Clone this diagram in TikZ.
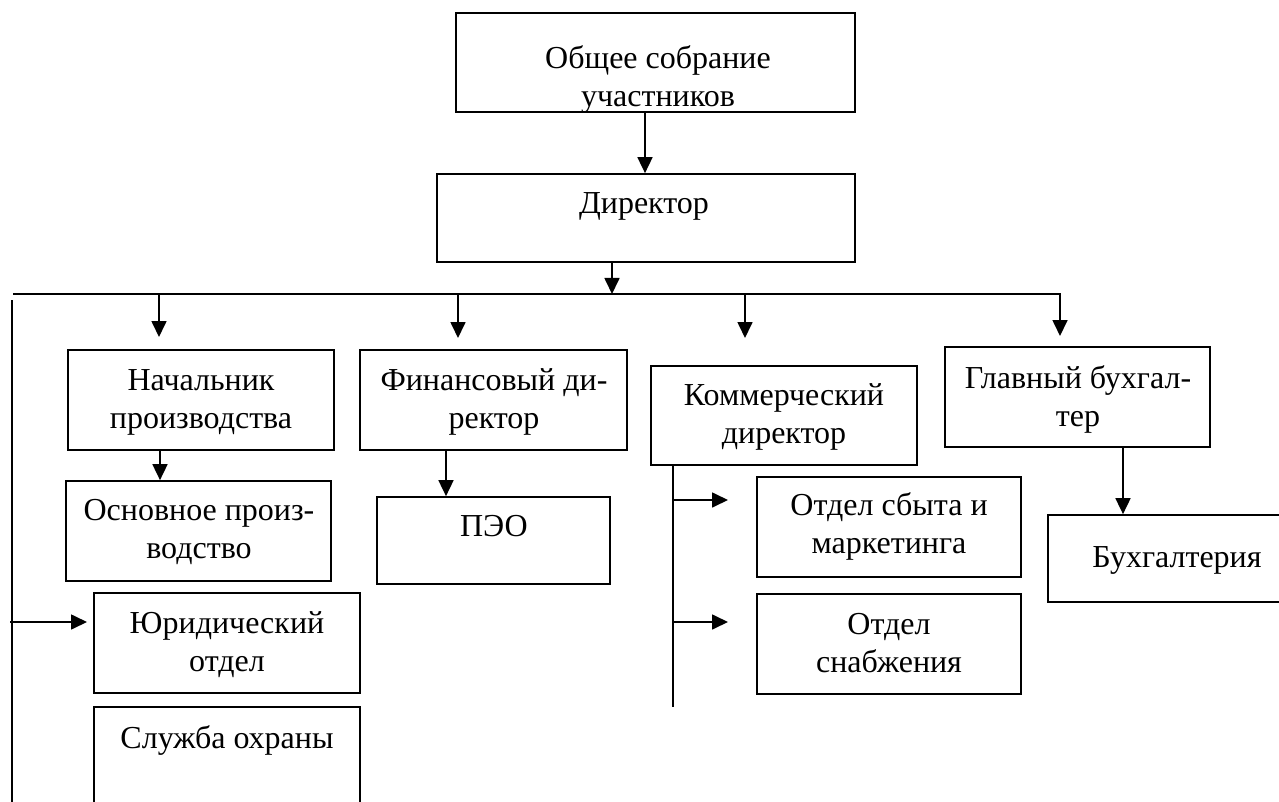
\documentclass[tikz,border=0pt]{standalone}
\usepackage{fontspec}
\setmainfont{Liberation Serif}
\usetikzlibrary{arrows.meta,fit}
\newcommand\mlines[1]{\begin{tabular}[t]{@{}c@{}}#1\end{tabular}}
\begin{document}
\begin{tikzpicture}[x=0.5pt,y=-0.5pt,
  bx/.style={draw, line width=0.85pt, inner sep=0pt},
  txt/.style={inner sep=0pt, anchor=base, font=\fontsize{16pt}{19pt}\selectfont},
  arr/.style={line width=0.85pt, -{Triangle[length=8pt,width=7.5pt]}},
  ln/.style={line width=0.85pt}]
\useasboundingbox (0,0) rectangle (1279,802);

% boxes
\node[bx, fit={(456,13) (855,112)}] (obs) {};
\node[bx, fit={(437,174) (855,262)}] (dir) {};
\node[bx, fit={(68,350) (334,450)}] (nach) {};
\node[bx, fit={(360,350) (627,450)}] (fin) {};
\node[bx, fit={(651,366) (917,465)}] (kom) {};
\node[bx, fit={(945,347) (1210,447)}] (glav) {};
\node[bx, fit={(66,481) (331,581)}] (osn) {};
\node[bx, fit={(377,497) (610,584)}] (peo) {};
\node[bx, fit={(757,477) (1021,577)}] (sbyt) {};
\node[bx, fit={(757,594) (1021,694)}] (snab) {};
\node[bx, fit={(1048,515) (1306,602)}] (buh) {};
\node[bx, fit={(94,593) (360,693)}] (yur) {};
\node[bx, fit={(94,707) (360,840)}] (sluzh) {};

% texts
\node[txt] (tobs) at (658,69) {\mlines{Общее собрание\\участников}};
\node[txt] (tdir) at (644,214) {Директор};
\node[txt] (tnach) at (201,390) {\mlines{Начальник\\производства}};
\node[txt] (tfin) at (494,390) {\mlines{Финансовый ди-\\ректор}};
\node[txt] (tkom) at (784,405) {\mlines{Коммерческий\\директор}};
\node[txt] (tglav) at (1078,388) {\mlines{Главный бухгал-\\тер}};
\node[txt] (tosn) at (199,520) {\mlines{Основное произ-\\водство}};
\node[txt] (tpeo) at (494,536) {ПЭО};
\node[txt] (tsbyt) at (889,515) {\mlines{Отдел сбыта и\\маркетинга}};
\node[txt] (tsnab) at (889,634) {\mlines{Отдел\\снабжения}};
\node[txt] (tbuh) at (1177,567) {Бухгалтерия};
\node[txt] (tyur) at (227,633) {\mlines{Юридический\\отдел}};
\node[txt] (tsluzh) at (227,748) {Служба охраны};

% coordinates
\coordinate (c1) at (645,0);
\coordinate (c2) at (612,294);
\coordinate (busL) at (13,294);
\coordinate (busR) at (1060,294);
\coordinate (b1) at (159,294);
\coordinate (b2) at (458,294);
\coordinate (b3) at (745,294);
\coordinate (e1) at (159,337);
\coordinate (e2) at (458,338);
\coordinate (e3) at (745,338);
\coordinate (e4) at (1060,336);
\coordinate (c3) at (160,0);
\coordinate (c4) at (446,0);
\coordinate (c5) at (1123,0);
\coordinate (lvT) at (12,300);
\coordinate (lvB) at (12,820);
\coordinate (yS) at (10,622);
\coordinate (yE) at (87,622);
\coordinate (kx) at (673,0);
\coordinate (kB) at (673,707);
\coordinate (k1) at (673,500);
\coordinate (k1e) at (728,500);
\coordinate (k2) at (673,622);
\coordinate (k2e) at (728,622);

% connectors
\draw[arr] (obs.south -| c1) -- (dir.north -| c1);
\draw[arr] (dir.south -| c2) -- (c2);
\draw[arr] (busL) -- (busR) -- (e4);
\draw[arr] (b1) -- (e1);
\draw[arr] (b2) -- (e2);
\draw[arr] (b3) -- (e3);
\draw[arr] (nach.south -| c3) -- (osn.north -| c3);
\draw[arr] (fin.south -| c4) -- (peo.north -| c4);
\draw[arr] (glav.south -| c5) -- (buh.north -| c5);
\draw[ln] (lvT) -- (lvB);
\draw[arr] (yS) -- (yE);
\draw[ln] (kom.south -| kx) -- (kB);
\draw[arr] (k1) -- (k1e);
\draw[arr] (k2) -- (k2e);
\end{tikzpicture}
\end{document}
